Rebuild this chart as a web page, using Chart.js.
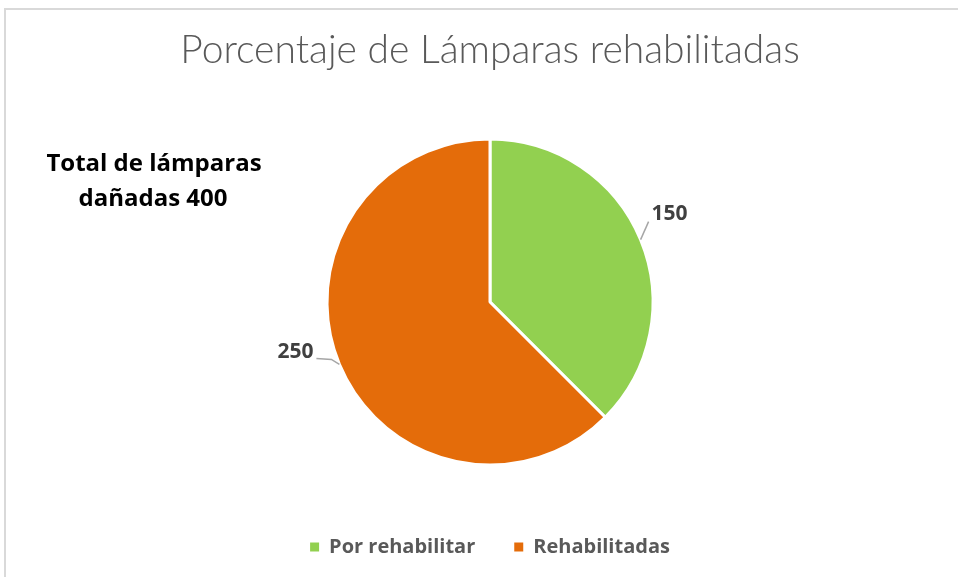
<!DOCTYPE html>
<html>
<head>
<meta charset="utf-8">
<script src="https://cdn.jsdelivr.net/npm/chart.js@4"></script>
<style>
  html, body { margin: 0; padding: 0; background: #fff; }
  #wrap { width: 958px; height: 577px; }
</style>
</head>
<body>
<div id="wrap"><canvas id="lampChart" width="958" height="577"></canvas></div>
<script>
// datos
const categorias = ["Por rehabilitar", "Rehabilitadas"];
const valores = [150, 250];
const colores = ["#92D050", "#E46C0A"];
const titulo = "Porcentaje de Lámparas rehabilitadas";
const notaTotal = ["Total de lámparas", "dañadas 400"];

// marco gris y nota de la izquierda
const extrasPlugin = {
    id: "extras",
    beforeDraw(chart) {
        const ctx = chart.ctx;
        ctx.save();
        ctx.strokeStyle = "#d9d9d9";
        ctx.lineWidth = 2;
        ctx.strokeRect(5, 9, 980, 600);
        ctx.restore();
    },
    afterDraw(chart) {
        const ctx = chart.ctx;
        ctx.save();
        ctx.fillStyle = "#000";
        ctx.font = "bold 24px 'Open Sans'";
        ctx.textAlign = "center";
        ctx.textBaseline = "alphabetic";
        ctx.fillText(notaTotal[0], 154, 171);
        ctx.fillText(notaTotal[1], 153, 206);

        // etiquetas de datos con línea guía
        const arcs = chart.getDatasetMeta(0).data;
        ctx.font = "bold 21px 'Open Sans'";
        ctx.fillStyle = "#404040";
        ctx.strokeStyle = "#a6a6a6";
        ctx.lineWidth = 1.5;
        arcs.forEach((arc, i) => {
            const p = arc.getProps(["x", "y", "startAngle", "endAngle", "outerRadius"], true);
            const mid = (p.startAngle + p.endAngle) / 2;
            const ex = p.x + Math.cos(mid) * p.outerRadius;
            const ey = p.y + Math.sin(mid) * p.outerRadius;
            ctx.beginPath();
            if (Math.cos(mid) >= 0) {
                ctx.moveTo(ex, ey);
                ctx.lineTo(ex + 8, ey - 18);
                ctx.stroke();
                ctx.textAlign = "left";
                ctx.textBaseline = "middle";
                ctx.fillText(String(valores[i]), ex + 11, ey - 26);
            } else {
                ctx.moveTo(ex, ey);
                ctx.lineTo(ex - 8, ey - 5);
                ctx.lineTo(ex - 23, ey - 6);
                ctx.stroke();
                ctx.textAlign = "right";
                ctx.textBaseline = "middle";
                ctx.fillText(String(valores[i]), ex - 26, ey - 12);
            }
        });
        ctx.restore();
    }
};

const ctx = document.getElementById("lampChart").getContext("2d");
const lampChart = new Chart(ctx, {
    type: "pie",
    data: {
        labels: categorias,
        datasets: [{
            data: valores,
            backgroundColor: colores,
            borderColor: "#ffffff",
            borderWidth: 3,
        }, ],
    },
    options: {
        responsive: false,
        animation: false,
        radius: 163,
        layout: {
            padding: { top: 10, bottom: 10, left: 22, right: 0 },
        },
        plugins: {
            title: {
                display: true,
                text: titulo,
                color: "#595959",
                font: { family: "Lato", size: 39, weight: 300 },
                padding: { top: 17, bottom: 32.2 },
            },
            legend: {
                position: "bottom",
                labels: {
                    boxWidth: 9,
                    boxHeight: 9,
                    padding: 39,
                    color: "#595959",
                    font: { family: "'Open Sans'", size: 20, weight: "bold" },
                    // cuadros sin borde blanco
                    generateLabels: function(chart) {
                        const items = Chart.controllers.pie.overrides.plugins.legend.labels.generateLabels(chart);
                        items.forEach((it) => {
                            it.lineWidth = 0;
                            it.strokeStyle = it.fillStyle;
                        });
                        return items;
                    },
                },
            },
            tooltip: { enabled: false },
        },
    },
    plugins: [extrasPlugin],
});
</script>
</body>
</html>
